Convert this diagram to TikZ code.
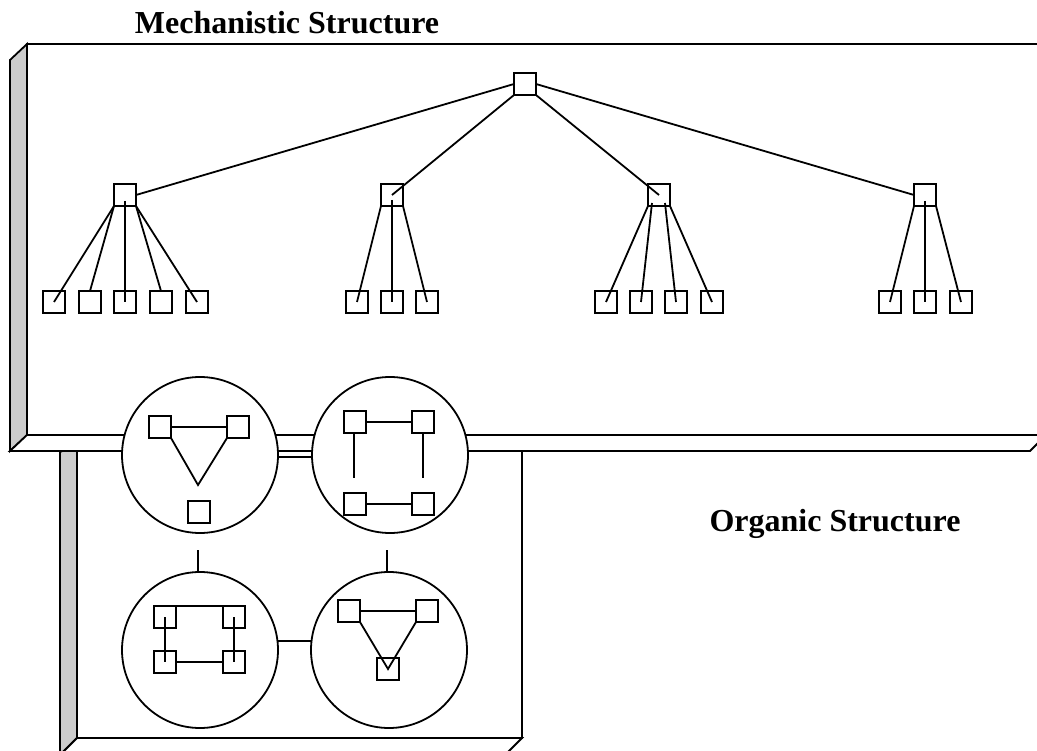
\documentclass[tikz,border=0pt]{standalone}
\usepackage{fontspec}
\setmainfont{Liberation Serif}
\definecolor{boardgray}{RGB}{204,204,204}
\begin{document}
\begin{tikzpicture}[x=1pt,y=-1pt, line width=1.8pt, line join=miter,
  box/.style={draw, minimum size=22pt, inner sep=0pt, outer sep=0pt},
  grp/.style={draw, circle, minimum size=156pt, inner sep=0pt, outer sep=0pt, fill=white},
  face/.style={draw, fill=white},
  side/.style={draw, fill=boardgray},
  lbl/.style={font=\bfseries\fontsize{32}{38}\selectfont, anchor=base, inner sep=0pt}]
\useasboundingbox (0,0) rectangle (1037,751);
\clip (0,0) rectangle (1037,751);

% lower board (organic)
\draw[face] (77,445) rectangle (522,738);
\draw[side] (60,452) -- (77,445) -- (77,738) -- (60,755) -- cycle;
\draw[face] (60,755) -- (77,738) -- (522,738) -- (505,755) -- cycle;

% upper board (mechanistic)
\draw[face] (27,44) rectangle (1060,435);
\draw[side] (10,60) -- (27,44) -- (27,435) -- (10,451) -- cycle;
\draw[face] (10,451) -- (27,435) -- (1046,435) -- (1030,451) -- cycle;

% labels
\node[lbl] (mech) at (287,34) {Mechanistic Structure};
\node[lbl] (org) at (835,531) {Organic Structure};

% hierarchy
\node[box] (t) at (525,84) {};
\node[box] (m1) at (125,195) {};
\node[box] (m2) at (392,195) {};
\node[box] (m3) at (659,195) {};
\node[box] (m4) at (925,195) {};
\foreach \n/\x in {l11/54,l12/90,l13/125,l14/161,l15/197,
                   l21/357,l22/392,l23/427,
                   l31/606,l32/641,l33/676,l34/712,
                   l41/890,l42/925,l43/961}
  \node[box] (\n) at (\x,302) {};

\draw (t.west) -- (m1.east);
\draw (t.south west) -- (m2.center);
\draw (t.south east) -- (m3.center);
\draw (t.east) -- (m4.west);

\draw (m1.south west) -- (l11.center);
\draw (m1.south west) -- (l12.north);
\draw ([yshift=-6pt]m1.center) -- (l13.center);
\draw (m1.south east) -- (l14.north);
\draw (m1.south east) -- (l15.center);

\draw (m2.south west) -- (l21.center);
\draw ([yshift=-5pt]m2.center) -- (l22.center);
\draw (m2.south east) -- (l23.center);

\draw (m3.south west) -- (l31.center);
\draw ([xshift=-7pt,yshift=3pt]m3.south) -- (l32.center);
\draw ([xshift=6pt,yshift=3pt]m3.south) -- (l33.center);
\draw (m3.south east) -- (l34.center);

\draw (m4.south west) -- (l41.center);
\draw ([yshift=-6pt]m4.center) -- (l42.center);
\draw (m4.south east) -- (l43.center);

% organic groups
\node[grp] (C1) at (200,455) {};
\node[grp] (C2) at (390,455) {};
\node[grp] (C3) at (200,650) {};
\node[grp] (C4) at (389,650) {};

\draw ([yshift=-2pt]C1.east) -- ([yshift=-2pt]C2.west);
\draw ([xshift=-1pt,yshift=9pt]C3.east) -- ([xshift=1pt,yshift=9pt]C4.west);
\coordinate (s1) at (198,550);
\coordinate (s2) at (387,550);
\draw (s1) -- (s1 |- C3.north);
\draw (s2) -- (s2 |- C4.north);

% group 1: triangle + lone box
\node[box] (a1) at (160,427) {};
\node[box] (a2) at (238,427) {};
\node[box] (a3) at (199,512) {};
\coordinate (a4) at (198,485);
\draw (a1.east) -- (a2.west);
\draw (a1.south east) -- (a4) -- (a2.south west);

% group 2: square with gaps
\node[box] (b1) at (355,422) {};
\node[box] (b2) at (423,422) {};
\node[box] (b3) at (355,504) {};
\node[box] (b4) at (423,504) {};
\coordinate (b5) at (354,478);
\coordinate (b6) at (423,478);
\draw (b1.east) -- (b2.west);
\draw (b3.east) -- (b4.west);
\draw (b1.south -| b5) -- (b5);
\draw (b2.south) -- (b6);

% group 3: full square
\node[box] (c1) at (165,617) {};
\node[box] (c2) at (234,617) {};
\node[box] (c3) at (165,662) {};
\node[box] (c4) at (234,662) {};
\draw (c1.north east) -- (c2.north west);
\draw (c3.east) -- (c4.west);
\draw (c1.center) -- (c3.center);
\draw (c2.center) -- (c4.center);

% group 4: triangle
\node[box] (d1) at (349,611) {};
\node[box] (d2) at (427,611) {};
\node[box] (d3) at (388,669) {};
\draw (d1.east) -- (d2.west);
\draw (d1.south east) -- (d3.center) -- (d2.south west);
\end{tikzpicture}
\end{document}
